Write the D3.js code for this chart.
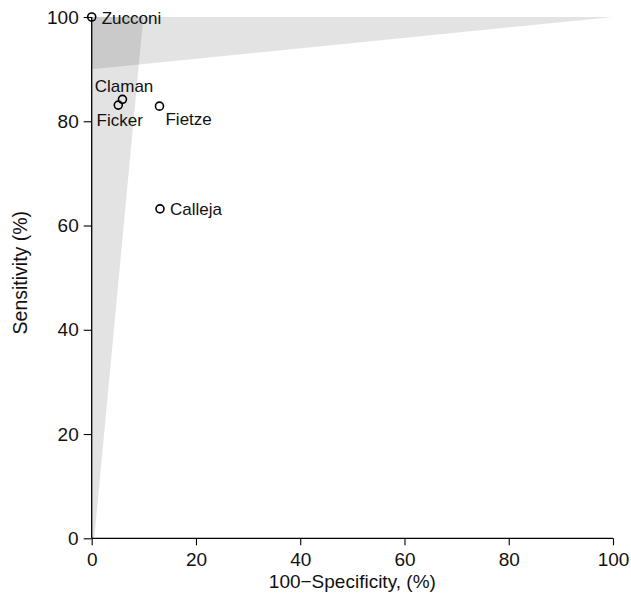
<!DOCTYPE html>
<html><head><meta charset="utf-8">
<script src="https://cdn.jsdelivr.net/npm/d3@7"></script>
<style>body{margin:0;background:#fff}svg{display:block}text{font-family:"Liberation Sans",Arial,sans-serif}</style>
</head><body>
<script>
const studies = ["Zucconi","Claman","Ficker","Fietze","Calleja"];
const fpr = [0, 5.9, 5.1, 13.0, 13.1];       // 100 - specificity (%)
const sens = [100, 84.2, 83.1, 82.9, 63.2];  // sensitivity (%)
const labelPos = ["right","aboveleft","belowleft","belowright","right"];
const ticks = [0,20,40,60,80,100];
// shaded regions (confidence / prediction wedges), data coordinates
const wedgeV = [[0,0],[0.5,0],[9.9,100],[0,100]];
const wedgeH = [[0,100],[100,100],[0,90]];

const W=631,H=597;
const svg=d3.select("body").append("svg").attr("width",W).attr("height",H);
const x=d3.scaleLinear().domain([0,100]).range([91.7,613]);
const y=d3.scaleLinear().domain([0,100]).range([538.3,17]);

const line=d3.line().x(d=>x(d[0])).y(d=>y(d[1]));
[wedgeV,wedgeH].forEach(w=>{
  svg.append("path").attr("d",line(w)+"Z").attr("fill","#000").attr("fill-opacity",0.11);
});

const xa=svg.append("g").attr("transform",`translate(0,${y(0)})`)
  .call(d3.axisBottom(x).tickValues(ticks).tickSize(7).tickPadding(7));
const ya=svg.append("g").attr("transform",`translate(${x(0)},0)`)
  .call(d3.axisLeft(y).tickValues(ticks).tickSize(8).tickPadding(5));
[xa,ya].forEach(a=>{
  a.select(".domain").attr("d", a===xa?`M${x(0)},0H${x(100)}`:`M0,${y(0)}V${y(100)}`).attr("stroke","#000").attr("stroke-width",1.3);
  a.selectAll(".tick line").attr("stroke","#000").attr("stroke-width",1.1);
  a.selectAll(".tick text").attr("fill","#111").style("font-size","19px").style("font-family","Liberation Sans, Arial, sans-serif");
});

svg.append("text").attr("x",(x(0)+x(100))/2).attr("y",588).attr("text-anchor","middle")
  .style("font-size","19px").attr("fill","#111").text("100\u2212Specificity, (%)");
svg.append("text").attr("transform",`translate(27,${(y(0)+y(100))/2-5}) rotate(-90)`).attr("text-anchor","middle")
  .style("font-size","19.5px").attr("fill","#111").text("Sensitivity (%)");

const offsets={right:[10,6.5],aboveleft:[-27.7,-7.6],belowleft:[-21.7,21],belowright:[6,19]};
const g=svg.append("g");
studies.forEach((s,i)=>{
  const cx=x(fpr[i]),cy=y(sens[i]);
  g.append("circle").attr("cx",cx).attr("cy",cy).attr("r",4).attr("fill","none").attr("stroke","#000").attr("stroke-width",1.6);
  const o=offsets[labelPos[i]];
  g.append("text").attr("x",cx+o[0]).attr("y",cy+o[1])
    .style("font-size","17px").attr("fill","#111").text(s);
});
</script>
</body></html>
